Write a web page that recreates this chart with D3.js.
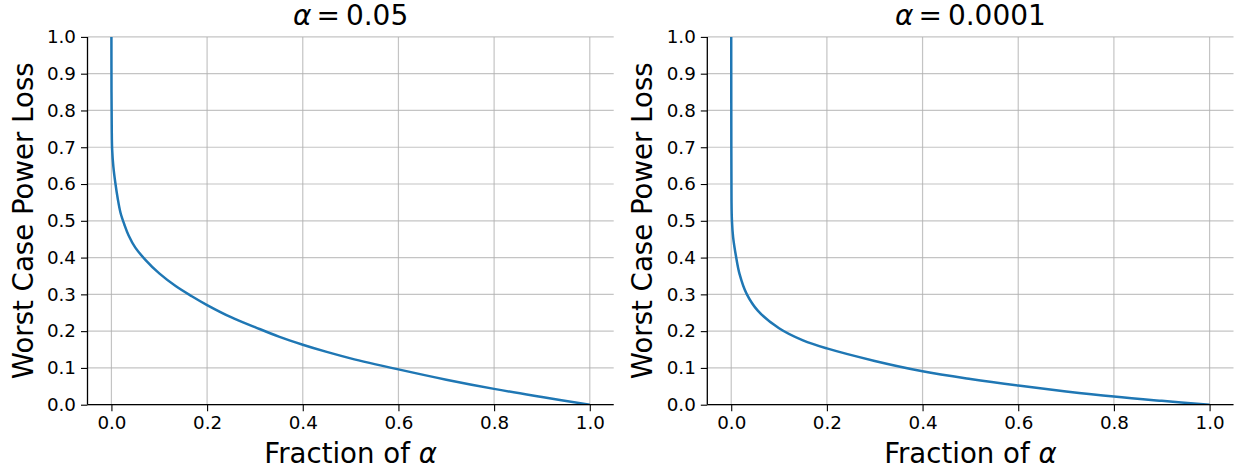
<!DOCTYPE html>
<html><head><meta charset="utf-8">
<script src="https://cdn.jsdelivr.net/npm/d3@7"></script>
<style>body{margin:0;background:#fff}svg{display:block}text{font-family:"DejaVu Sans",sans-serif;fill:#000}</style>
</head><body>
<svg id="chart" width="1239" height="469"></svg>
<script>
// ---- data ----
const titles = ["0.05", "0.0001"];
const xTicks = [0.0, 0.2, 0.4, 0.6, 0.8, 1.0];
const yTicks = [0.0, 0.1, 0.2, 0.3, 0.4, 0.5, 0.6, 0.7, 0.8, 0.9, 1.0];
const leftFrac = [0, 0.0002, 0.0007, 0.0015, 0.004, 0.0083, 0.013, 0.019, 0.027, 0.036, 0.05, 0.071, 0.1, 0.135, 0.168, 0.2, 0.25, 0.3, 0.35, 0.4, 0.45, 0.5, 0.6, 0.7, 0.8, 0.9, 1.0];
const leftLoss = [1.0, 0.85, 0.75, 0.695, 0.648, 0.602, 0.562, 0.522, 0.49, 0.46, 0.427, 0.394, 0.357, 0.322, 0.295, 0.271, 0.238, 0.211, 0.185, 0.163, 0.1435, 0.126, 0.096, 0.068, 0.043, 0.021, 0.0];
const rightFrac = [0, 0.0002, 0.0006, 0.0015, 0.004, 0.0098, 0.0175, 0.032, 0.056, 0.1, 0.15, 0.2, 0.3, 0.4, 0.5, 0.6, 0.7, 0.8, 0.9, 1.0];
const rightLoss = [1.0, 0.75, 0.56, 0.5, 0.455, 0.405, 0.355, 0.302, 0.255, 0.208, 0.175, 0.153, 0.119, 0.091, 0.07, 0.052, 0.036, 0.022, 0.0105, 0.0];

const panels = [
  {title: titles[0], frac: leftFrac, loss: leftLoss, left: 87.5},
  {title: titles[1], frac: rightFrac, loss: rightLoss, left: 707.3}
];

const svg = d3.select("#chart");
svg.append("rect").attr("width", 1239).attr("height", 469).attr("fill", "#fff");
const W = 526.2, yTop = 36.9, yBot = 404.7;

panels.forEach((p, i) => {
  const x = d3.scaleLinear().domain([-0.05, 1.05]).range([p.left, p.left + W]);
  const y = d3.scaleLinear().domain([0, 1]).range([yBot, yTop]);
  const g = svg.append("g");

  g.selectAll(".vg").data(xTicks).join("line")
    .attr("x1", d => x(d)).attr("x2", d => x(d)).attr("y1", yTop).attr("y2", yBot)
    .attr("stroke", "#b0b0b0").attr("stroke-opacity", 0.75).attr("stroke-width", 1.2);
  g.selectAll(".hg").data(yTicks).join("line")
    .attr("x1", p.left).attr("x2", p.left + W).attr("y1", d => y(d)).attr("y2", d => y(d))
    .attr("stroke", "#b0b0b0").attr("stroke-opacity", 0.75).attr("stroke-width", 1.2);

  const cid = "clip" + i;
  svg.append("clipPath").attr("id", cid).append("rect")
    .attr("x", p.left).attr("y", yTop).attr("width", W).attr("height", yBot - yTop);

  const pts = p.frac.map((f, k) => [f, p.loss[k]]);
  const line = d3.line().x(d => x(d[0])).y(d => y(d[1])).curve(d3.curveCatmullRom.alpha(0.5));
  g.append("path").datum(pts).attr("d", line).attr("fill", "none")
    .attr("stroke", "#1f77b4").attr("stroke-width", 2.5).attr("clip-path", `url(#${cid})`);

  const xa = d3.axisBottom(x).tickValues(xTicks).tickFormat(d3.format(".1f")).tickSize(6.5).tickPadding(5);
  const ya = d3.axisLeft(y).tickValues(yTicks).tickFormat(d3.format(".1f")).tickSize(6.5).tickPadding(5);
  const gx = g.append("g").attr("transform", `translate(0,${yBot})`).call(xa);
  const gy = g.append("g").attr("transform", `translate(${p.left},0)`).call(ya);
  [gx, gy].forEach(a => {
    a.select(".domain").attr("stroke", "#000").attr("stroke-width", 1.3);
    a.selectAll(".tick line").attr("stroke", "#000").attr("stroke-width", 1.1);
    a.selectAll(".tick text").attr("font-size", 18.3).attr("font-family", "DejaVu Sans").attr("fill", "#000");
  });
  gx.select(".domain").attr("d", `M${p.left},0H${p.left + W}`);
  gy.select(".domain").attr("d", `M0,${yBot}V${yTop}`);

  const cx = p.left + W / 2;
  const t = g.append("text").attr("x", cx).attr("y", 25).attr("text-anchor", "middle").attr("font-size", 28);
  t.append("tspan").attr("font-style", "italic").text("α");
  t.append("tspan").attr("dx", 5).text("=");
  t.append("tspan").attr("dx", 6).text(p.title);
  const xl = g.append("text").attr("x", cx).attr("y", 463).attr("text-anchor", "middle").attr("font-size", 27.6);
  xl.append("tspan").text("Fraction of ");
  xl.append("tspan").attr("font-style", "italic").text("α");
  g.append("text").attr("transform", `translate(${p.left - 55},${(yTop + yBot) / 2}) rotate(-90)`)
    .attr("text-anchor", "middle").attr("font-size", 27.6).text("Worst Case Power Loss");
});
</script>
</body></html>
